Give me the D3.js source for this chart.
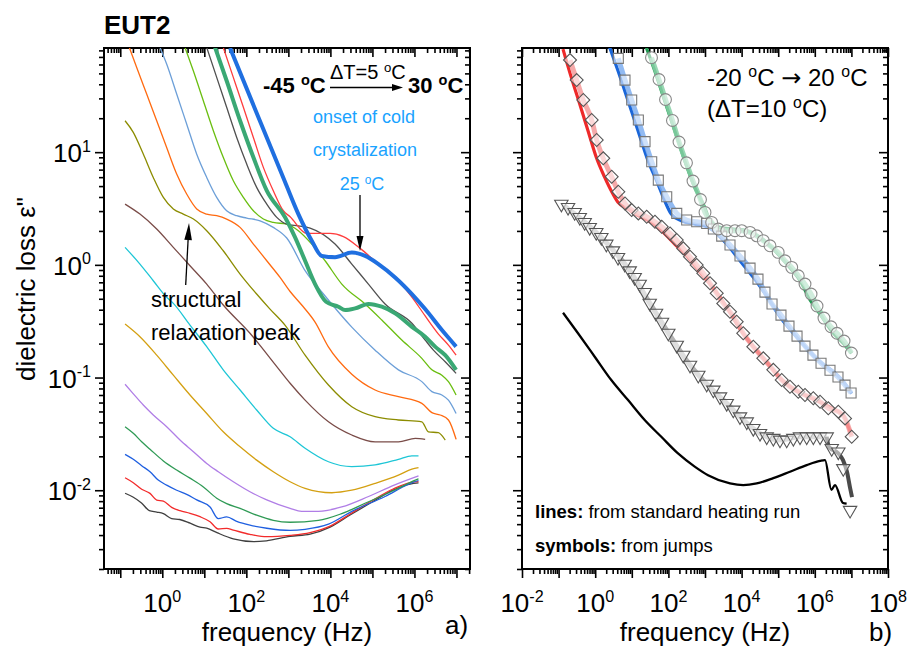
<!DOCTYPE html>
<html><head><meta charset="utf-8">
<script src="https://cdn.jsdelivr.net/npm/d3@7"></script>
<style>
body{margin:0;background:#fff;}
svg{font-family:"Liberation Sans",Arial,Helvetica,sans-serif;}
</style></head><body>
<svg id="chart" width="910" height="651"></svg>
<script>
// ---------- panel a) : standard heating run, -45 °C ... 30 °C (ΔT = 5 °C) ----------
// each curve: [frequency (Hz), dielectric loss]
const temps = [-45,-40,-35,-30,-25,-20,-15,-10,-5,0,5,10,15,20,25,30];
const eps_m45 = [[0.13,0.0094],[0.2,0.0087],[0.32,0.0077],[0.49,0.0066],[0.74,0.0064],[1.06,0.0062],[1.67,0.0056],[2.6,0.0055],[4.6,0.0051],[7.9,0.0047],[11.4,0.0046],[20,0.0042],[49,0.0037],[150,0.0035],[300,0.00356],[1100,0.0039],[3290,0.00408],[9840,0.00471],[29400,0.00603],[98400,0.00786],[3.11e5,0.01004],[7.9e5,0.01135],[1.25e6,0.0116]];
const eps_m40 = [[0.13,0.0129],[0.204,0.01166],[0.323,0.0102],[0.51,0.00938],[0.736,0.00818],[1.06,0.00802],[1.67,0.00705],[2.64,0.00658],[4.57,0.00624],[7.9,0.00582],[13.7,0.00525],[21.5,0.00453],[34,0.00459],[49,0.00443],[122,0.00406],[306,0.00387],[1100,0.00398],[3290,0.00421],[9840,0.00481],[29400,0.00615],[98400,0.0081],[3.11e5,0.01025],[7.9e5,0.0117],[1.25e6,0.0119]];
const eps_m35 = [[0.13,0.0208],[0.204,0.0188],[0.323,0.0165],[0.51,0.0146],[0.8,0.0123],[1.27,0.0111],[2.2,0.01],[3.8,0.0092],[6.6,0.0082],[13.7,0.0071],[21.5,0.0056],[34,0.0058],[59,0.0053],[122,0.0049],[306,0.0046],[1100,0.0044],[2500,0.0045],[9000,0.005],[32300,0.0065],[2e5,0.0088],[7.2e5,0.0113],[1.25e6,0.0122]];
const eps_m30 = [[0.13,0.0366],[0.204,0.032],[0.323,0.0269],[0.51,0.0231],[1.06,0.0182],[2.2,0.0151],[4.56,0.0128],[9.5,0.0107],[19.7,0.0085],[34,0.0076],[71,0.0069],[176,0.006],[438,0.0054],[1100,0.0052],[5200,0.0054],[18600,0.0062],[81000,0.0079],[3.3e5,0.01],[1.05e6,0.0123],[1.25e6,0.0126]];
const eps_m25 = [[0.13,0.0871],[0.2,0.0724],[0.353,0.057],[0.61,0.0465],[1.27,0.0366],[2.64,0.0279],[5.5,0.022],[11.4,0.0173],[21.5,0.0146],[49,0.0119],[122,0.0097],[306,0.0082],[1100,0.0069],[2070,0.0065],[5200,0.0065],[18600,0.0071],[81000,0.0088],[3.3e5,0.0111],[1.25e6,0.0134]];
const eps_m20 = [[0.13,0.298],[0.294,0.23],[0.736,0.158],[1.83,0.105],[4.56,0.07],[11.4,0.048],[28.2,0.033],[71,0.0243],[176,0.0185],[438,0.0146],[1100,0.0119],[2500,0.0104],[10800,0.0095],[32300,0.01],[1.16e5,0.0115],[4.16e5,0.0136],[8.7e5,0.0154],[1.25e6,0.0159]];
const eps_m15 = [[0.13,1.43],[0.294,1.016],[0.61,0.723],[1.27,0.515],[1.83,0.455],[4.56,0.292],[11.4,0.188],[28.2,0.117],[71,0.0775],[176,0.0515],[438,0.0354],[1100,0.0298],[2500,0.0236],[9000,0.0179],[32300,0.0162],[1.16e5,0.0168],[4.16e5,0.0188],[8.7e5,0.0202],[1.25e6,0.0202]];
const eps_m10 = [[0.13,3.46],[0.294,2.82],[0.736,2.08],[1.83,1.43],[4.56,0.982],[11.4,0.675],[28.2,0.44],[122,0.247],[530,0.125],[1100,0.089],[2500,0.0631],[9000,0.0405],[32300,0.0309],[1.16e5,0.0269],[4.16e5,0.0269],[1.05e6,0.0289],[1.8e6,0.0283]];
const eps_m5 = [[0.13,19.0],[0.204,15.0],[0.353,9.62],[0.61,5.97],[1.06,3.97],[1.83,3.13],[3.16,2.82],[5.5,2.55],[11.4,2.01],[28.2,1.334],[71,0.829],[176,0.551],[366,0.405],[830,0.292],[2500,0.158],[9000,0.0858],[32300,0.0551],[1.16e5,0.0449],[4.16e5,0.042],[1.5e6,0.0405],[2.15e6,0.033],[3.7e6,0.0324],[5.4e6,0.0279]];
const eps_0 = [[0.164,85],[0.246,56.5],[0.425,32.8],[0.736,19],[1.27,11.0],[2.2,6.4],[3.8,4.25],[6.6,3.13],[11.4,2.82],[19.7,2.73],[34,2.55],[71,2.15],[147,1.53],[306,1.087],[634,0.774],[1100,0.58],[2080,0.44],[4320,0.31],[8960,0.187],[32300,0.107],[1.16e5,0.0775],[4.16e5,0.0676],[1.5e6,0.059],[2.6e6,0.0488],[4.1e6,0.0465],[6.45e6,0.042],[9.8e6,0.0283]];
const eps_5 = [[0.88,85],[1.27,60.5],[2.2,32.8],[3.8,17.8],[6.6,9.6],[11.4,5.97],[19.7,3.97],[34,3.02],[59,2.73],[102,2.6],[212,2.46],[438,2.15],[916,1.73],[2500,0.887],[7480,0.529],[32300,0.28],[1.16e5,0.175],[4.16e5,0.117],[1.5e6,0.092],[2.6e6,0.075],[4.5e6,0.07],[6.45e6,0.063],[9.8e6,0.048]];
const eps_10 = [[3.47,85],[5.47,52.7],[9.47,28.6],[16.4,15.5],[28.2,9.0],[49,5.57],[85,3.97],[147,3.02],[254,2.55],[438,2.38],[916,2.3],[1730,2.01],[3600,1.53],[7480,1.087],[18700,0.675],[67000,0.449],[1.67e5,0.324],[5e5,0.215],[1.5e6,0.148],[2.6e6,0.117],[4.5e6,0.105],[6.45e6,0.092],[9.8e6,0.07]];
const eps_15 = [[11.4,85],[19.7,46.1],[34,25],[59,13.5],[102,7.84],[176,4.87],[306,3.46],[530,2.64],[916,2.3],[1730,2.22],[3290,2.12],[12900,1.53],[32300,1.016],[80300,0.675],[2e5,0.449],[8.7e5,0.303],[1.8e6,0.215],[2.83e6,0.175],[5.4e6,0.138],[9.8e6,0.109]];
const eps_20 = [[28.2,85],[49,46.1],[85,25],[147,13.5],[254,7.33],[438,4.55],[760,3.02],[1100,2.67],[2740,1.9],[9840,1.9],[20400,1.78],[51000,1.4],[1.39e5,1.016],[4.16e5,0.718],[8.7e5,0.518],[1.8e6,0.352],[3.73e6,0.243],[6.45e6,0.194],[9.8e6,0.158]];
const eps_25 = [[41,84],[185,21.3],[834,5.43],[1730,2.82],[3600,1.64],[6240,1.2],[12900,1.17],[32300,1.285],[67000,1.2],[1.39e5,1.016],[3.47e5,0.774],[8.7e5,0.551],[1.8e6,0.405],[4.5e6,0.264],[7.8e6,0.208],[9.8e6,0.188]];
const eps_30 = [[18,85],[34,43],[71,19],[147,9],[306,4.55],[834,2.64],[1445,1.754],[2500,1.087],[4320,0.675],[7900,0.47],[15500,0.425],[22400,0.397],[38700,0.411],[80300,0.45],[1.67e5,0.425],[3.47e5,0.371],[8.7e5,0.282],[1.8e6,0.23],[3.1e6,0.188],[5.4e6,0.158],[9.8e6,0.117]];
const seriesA = [eps_m45,eps_m40,eps_m35,eps_m30,eps_m25,eps_m20,eps_m15,eps_m10,eps_m5,eps_0,eps_5,eps_10,eps_15,eps_20,eps_25,eps_30];
const colorsA = ["#404040","#f22b2b","#1f5fe0","#2f9a55","#b07ee6","#d4a012","#1ec6d6","#7a4c48","#8c8c00","#ff6a10","#6c9fd8","#6abe10","#505050","#ff3d3d","#1f6fe0","#3aa874"];
const widthsA = [1.3,1.3,1.3,1.3,1.3,1.3,1.3,1.3,1.3,1.3,1.3,1.3,1.3,1.3,4,4];

// ---------- panel b) : -20 °C ... 20 °C (ΔT = 10 °C) ----------
// lines from the standard heating run
const runRed = [[0.132,82],[0.222,46.1],[0.378,26.7],[0.636,15.5],[1.07,9.0],[1.82,5.97],[3.06,4.25],[4.2,3.59],[7.9,3.13],[14.8,2.73],[34,2.38],[64,2.01],[149,1.53],[343,1.166],[792,0.828],[1690,0.622],[3920,0.422],[9040,0.269],[20900,0.188],[48500,0.137],[1.12e5,0.099],[2.59e5,0.079],[6e5,0.0685],[1.39e6,0.0606],[3.2e6,0.0525],[6e6,0.0465],[8.2e6,0.0366],[1.02e7,0.0309]];
const runBlue = [[2.49,85],[4.2,52.7],[7.9,28.6],[14.8,15.5],[27.7,8.39],[52,5.21],[79,3.71],[120,2.82],[225,2.46],[523,2.3],[1210,2.16],[1690,2.01],[3920,1.53],[9040,1.087],[20900,0.774],[48500,0.529],[1.12e5,0.346],[2.59e5,0.247],[6e5,0.182],[1.39e6,0.138],[3.2e6,0.113],[6e6,0.092],[1.02e7,0.072]];
const runGreen = [[24.9,85],[42.3,52.7],[79,28.6],[149,15.5],[279,8.39],[523,4.87],[981,3.24],[1370,2.46],[2570,2.15],[5930,2.08],[13800,2.01],[31800,1.754],[73500,1.38],[1.71e5,1.016],[3.94e5,0.723],[7.5e5,0.485],[1.39e6,0.366],[3.2e6,0.247],[6e6,0.201],[1.02e7,0.164]];
const runGray = [[0.132,3.4],[1.07,1.94],[8.8,0.887],[31,0.458],[100,0.248],[389,0.129],[1110,0.0875],[3920,0.059],[9040,0.0449],[31800,0.032],[1.12e5,0.0279],[3.94e5,0.0298],[1.39e6,0.0298],[2.11e6,0.0298]];
const runGrayTail = [[2.11e6,0.0298],[2.44e6,0.0242],[4.3e6,0.0214],[5.9e6,0.0185],[7.6e6,0.0145],[9.2e6,0.0105],[1.04e7,0.0087]];
const runBlack = [[0.132,0.376],[0.339,0.247],[0.97,0.153],[2.75,0.095],[7.9,0.0631],[22.5,0.042],[64,0.0298],[183,0.0212],[523,0.0162],[1210,0.0136],[4820,0.0115],[11100,0.0111],[25900,0.0115],[73500,0.0128],[2.1e5,0.0146],[6e5,0.0167],[1.39e6,0.0182],[1.9e6,0.0185],[2.84e6,0.0101],[3.56e6,0.0111],[5.9e6,0.0077],[7.4e6,0.0076]];
// symbols from the temperature jumps
const jumpDiamonds = [[0.205,65.6],[0.312,43.6],[0.473,29],[0.802,19.3],[1.1,12.8],[1.66,8.81],[2.82,6.05],[4.28,4.45],[6.52,3.51],[9.93,3.06],[15.1,2.86],[25.5,2.67],[43,2.41],[65.6,2.18],[111,1.9],[169,1.66],[255,1.4],[389,1.18],[593,0.996],[899,0.841],[1370,0.686],[2090,0.559],[3160,0.455],[4820,0.384],[7350,0.313],[11100,0.247],[20900,0.188],[39200,0.148],[73500,0.117],[1.25e5,0.095],[2.1e5,0.0828],[3.54e5,0.0749],[5.4e5,0.07],[9.1e5,0.0654],[1.39e6,0.061],[2.34e6,0.0533],[4.39e6,0.0498],[6.7e6,0.0434],[1.02e7,0.0298]];
const jumpSquares = [[4.28,68],[6.52,43.6],[9.93,29],[15.1,19.3],[23,12.4],[35,8.22],[53,5.65],[90,4.02],[169,2.86],[316,2.5],[593,2.41],[1110,2.33],[1690,2.08],[2860,1.8],[4820,1.5],[9040,1.197],[17000,0.935],[28000,0.747],[43500,0.573],[67800,0.449],[1.19e5,0.358],[1.97e5,0.286],[3.27e5,0.233],[5.4e5,0.19],[8.9e5,0.158],[1.48e6,0.134],[2.6e6,0.116],[4.3e6,0.101],[6.7e6,0.0857],[9.8e6,0.073]];
const jumpCircles = [[34.5,69],[55.3,44.1],[83.3,29.3],[129,19.1],[195,12.3],[312,8.04],[470,5.54],[753,3.8],[1000,2.92],[1520,2.38],[2310,2.08],[3920,2.01],[6600,2.01],[10100,2.01],[17000,1.94],[25900,1.81],[39200,1.64],[59700,1.476],[1e5,1.29],[1.53e5,1.087],[2.34e5,0.95],[3.54e5,0.8],[5.4e5,0.675],[7.9e5,0.551],[1.15e6,0.431],[1.78e6,0.337],[2.77e6,0.282],[4.05e6,0.247],[6.3e6,0.211],[1e7,0.165]];
const jumpTriangles = [[0.119,3.46],[0.181,3.24],[0.275,2.92],[0.378,2.64],[0.516,2.38],[0.708,2.15],[1.07,1.94],[1.47,1.754],[2.01,1.53],[3.06,1.334],[4.2,1.166],[6.4,1.016],[8.77,0.887],[12,0.774],[16.4,0.675],[22.5,0.57],[30.8,0.458],[45.8,0.373],[66.8,0.31],[99.3,0.248],[169,0.194],[255,0.158],[389,0.129],[656,0.105],[1110,0.0875],[1690,0.0775],[2570,0.0676],[3920,0.059],[5930,0.0515],[9040,0.0449],[13800,0.0405],[20900,0.0354],[31800,0.032],[48500,0.0298],[73500,0.0289],[1.12e5,0.0279],[1.71e5,0.0279],[2.59e5,0.0289],[3.94e5,0.0298],[6e5,0.0298],[9.1e5,0.0298],[1.39e6,0.0298],[2.11e6,0.0298],[2.9e6,0.0235],[4.39e6,0.0219],[6e6,0.0156],[9.2e6,0.00664]];

// axis tick labels
const xLabelExpA = [0,2,4,6];
const xLabelExpB = [-2,0,2,4,6,8];
const yLabelExp = [-2,-1,0,1];

// ---------- drawing ----------
const svg = d3.select("#chart");
const FONT = 26;
const frameA = {x0:104, x1:470, y0:48, y1:569};
const frameB = {x0:522, x1:888, y0:48, y1:569};
const xA = d3.scaleLog().domain([0.041, 2.1e7]).range([frameA.x0, frameA.x1]);
const xB = d3.scaleLog().domain([0.01, 1e8]).range([frameB.x0, frameB.x1]);
const y = d3.scaleLog().domain([0.002, 84]).range([frameA.y1, frameA.y0]);

function logTicks(scale){
  const [a,b] = scale.domain();
  const majors = [], minors = [];
  for (let e = Math.floor(Math.log10(a)); e <= Math.ceil(Math.log10(b)); e++){
    for (let k = 1; k < 10; k++){
      const v = +(k + "e" + e);
      if (v < a*0.999 || v > b*1.001) continue;
      (k === 1 ? majors : minors).push(v);
    }
  }
  return {majors, minors};
}

function styleAxis(g){
  g.select(".domain").remove();
  g.selectAll(".tick line").attr("stroke","#000").attr("stroke-width",1.6);
  g.selectAll(".tick text").remove();
}

function drawFrame(f, x, name){
  const tx = logTicks(x), ty = logTicks(y);
  // bottom (outward) and top (inward)
  svg.append("g").attr("transform",`translate(0,${f.y1})`).call(d3.axisBottom(x).tickValues(tx.majors).tickSize(9)).call(styleAxis);
  svg.append("g").attr("transform",`translate(0,${f.y1})`).call(d3.axisBottom(x).tickValues(tx.minors).tickSize(5)).call(styleAxis);
  svg.append("g").attr("transform",`translate(0,${f.y0})`).call(d3.axisTop(x).tickValues(tx.majors).tickSize(-9)).call(styleAxis);
  svg.append("g").attr("transform",`translate(0,${f.y0})`).call(d3.axisTop(x).tickValues(tx.minors).tickSize(-5)).call(styleAxis);
  // left (outward) and right (inward)
  svg.append("g").attr("transform",`translate(${f.x0},0)`).call(d3.axisLeft(y).tickValues(ty.majors).tickSize(9)).call(styleAxis);
  svg.append("g").attr("transform",`translate(${f.x0},0)`).call(d3.axisLeft(y).tickValues(ty.minors).tickSize(5)).call(styleAxis);
  svg.append("g").attr("transform",`translate(${f.x1},0)`).call(d3.axisRight(y).tickValues(ty.majors).tickSize(-9)).call(styleAxis);
  svg.append("g").attr("transform",`translate(${f.x1},0)`).call(d3.axisRight(y).tickValues(ty.minors).tickSize(-5)).call(styleAxis);
  svg.append("rect").attr("x",f.x0).attr("y",f.y0).attr("width",f.x1-f.x0).attr("height",f.y1-f.y0)
    .attr("fill","none").attr("stroke","#000").attr("stroke-width",2);
  svg.append("clipPath").attr("id",name).append("rect")
    .attr("x",f.x0).attr("y",f.y0).attr("width",f.x1-f.x0).attr("height",f.y1-f.y0);
}

function powLabel(g, px, py, exp, anchor, size){
  const t = g.append("text").attr("x",px).attr("y",py).attr("text-anchor",anchor)
    .attr("font-size",size).attr("fill","#000");
  t.append("tspan").text("10");
  t.append("tspan").attr("dy",-size*0.4).attr("font-size",size*0.62).text(exp);
  return t;
}

// text with the degree sign written as a raised small "o"
function degText(g, px, py, parts, size, opts){
  const t = g.append("text").attr("x",px).attr("y",py).attr("font-size",size)
    .attr("fill",opts.fill||"#000").attr("font-weight",opts.weight||"normal")
    .attr("text-anchor",opts.anchor||"start");
  const rise = size*0.36;
  let pending = 0;
  parts.forEach(p => {
    if (p === "°") {
      t.append("tspan").attr("dy",-rise).attr("font-size",size*0.66).text("o");
      pending = rise;
      return;
    }
    const ts = t.append("tspan");
    if (pending) { ts.attr("dy", pending); pending = 0; }
    if (typeof p === "object") {
      ts.text(p.text);
      if (p.weight) ts.attr("font-weight", p.weight);
      if (p.family) ts.attr("font-family", p.family);
    } else ts.text(p);
  });
  return t;
}

drawFrame(frameA, xA, "clipA");
drawFrame(frameB, xB, "clipB");

const labels = svg.append("g");
xLabelExpA.forEach(e => powLabel(labels, xA(+("1e"+e)), 612, e, "middle", FONT));
xLabelExpB.forEach(e => powLabel(labels, xB(+("1e"+e)), 612, e, "middle", FONT));
yLabelExp.forEach(e => powLabel(labels, 91, y(+("1e"+e)) + 10, e, "end", FONT));

labels.append("text").attr("x",(frameA.x0+frameA.x1)/2).attr("y",641).attr("text-anchor","middle")
  .attr("font-size",FONT).text("frequency (Hz)");
labels.append("text").attr("x",(frameB.x0+frameB.x1)/2).attr("y",641).attr("text-anchor","middle")
  .attr("font-size",FONT).text("frequency (Hz)");
labels.append("text").attr("transform","translate(35,289) rotate(-90)").attr("text-anchor","middle")
  .attr("font-size",FONT).text("dielectric loss ε\"");
labels.append("text").attr("x",445).attr("y",634).attr("font-size",FONT).text("a)");
labels.append("text").attr("x",869).attr("y",641).attr("font-size",FONT).text("b)");
labels.append("text").attr("x",104).attr("y",34).attr("font-size",26).attr("font-weight","bold").text("EUT2");

// panel a curves
const lineA = d3.line().x(d => xA(d[0])).y(d => y(d[1])).curve(d3.curveMonotoneX);
const gA = svg.append("g").attr("clip-path","url(#clipA)");
seriesA.forEach((s,i) => {
  gA.append("path").attr("d", lineA(s)).attr("fill","none")
    .attr("stroke", colorsA[i]).attr("stroke-width", widthsA[i]).attr("stroke-linejoin","round");
});

// panel a annotations
const ann = svg.append("g");
function arrow(g, x1, y1, x2, y2, headLen, headW){
  const ang = Math.atan2(y2-y1, x2-x1);
  const bx = x2 - headLen*Math.cos(ang), by = y2 - headLen*Math.sin(ang);
  g.append("line").attr("x1",x1).attr("y1",y1).attr("x2",bx).attr("y2",by)
    .attr("stroke","#000").attr("stroke-width",1.3);
  const px = -Math.sin(ang)*headW, py = Math.cos(ang)*headW;
  g.append("path").attr("d",`M${x2},${y2}L${bx+px},${by+py}L${bx-px},${by-py}Z`).attr("fill","#000");
}
degText(ann, 263, 93, ["-45 ","°","C"], 22, {weight:"bold"});
degText(ann, 330, 79, ["ΔT=5 ","°","C"], 20, {});
arrow(ann, 330, 87.5, 403, 87.5, 11, 3.5);
degText(ann, 408, 93, ["30 ","°","C"], 22, {weight:"bold"});
ann.append("text").attr("x",313).attr("y",123).attr("font-size",18).attr("fill","#1aa3ff").text("onset of cold");
ann.append("text").attr("x",313).attr("y",156).attr("font-size",18).attr("fill","#1aa3ff").text("crystalization");
degText(ann, 362, 190, ["25 ","°","C"], 18, {fill:"#1aa3ff", anchor:"middle"});
arrow(ann, 360, 195, 360, 251, 15, 3.5);
arrow(ann, 185.7, 285, 189, 223, 17, 3.8);
ann.append("text").attr("x",151).attr("y",307).attr("font-size",22).text("structural");
ann.append("text").attr("x",151).attr("y",340).attr("font-size",22).text("relaxation peak");

// panel b curves
const lineB = d3.line().x(d => xB(d[0])).y(d => y(d[1])).curve(d3.curveMonotoneX);
const gB = svg.append("g").attr("clip-path","url(#clipB)");
function runLine(data, color, w, op){
  gB.append("path").attr("d", lineB(data)).attr("fill","none").attr("stroke",color)
    .attr("stroke-width",w).attr("stroke-opacity",op===undefined?1:op).attr("stroke-linejoin","round");
}
runLine(runBlack, "#000", 2.3);
runLine(runGray, "#b4b4b4", 5);
runLine(runGrayTail, "#4a4a4a", 4);
runLine(runRed, "#ee2a2a", 3.2);
runLine(runBlue, "#1a66d9", 3.2);
runLine(runGreen, "#229a52", 3.2);
runLine(jumpDiamonds, "#f49a9a", 5, 0.85);
runLine(jumpSquares, "#7eaef0", 5, 0.85);
runLine(jumpCircles, "#86d0a6", 5, 0.85);

// open symbols with a faint white fill
function symbols(data, type, size, rot, stroke){
  gB.append("g").selectAll("path").data(data).join("path")
    .attr("d", d3.symbol().type(type).size(size))
    .attr("transform", d => `translate(${xB(d[0])},${y(d[1])}) rotate(${rot})`)
    .attr("fill","#fff").attr("fill-opacity",0.55)
    .attr("stroke",stroke).attr("stroke-width",1.1);
}
symbols(jumpTriangles, d3.symbolTriangle, 78, 180, "#555");
symbols(jumpDiamonds, d3.symbolSquare, 84, 45, "#555");
symbols(jumpSquares, d3.symbolSquare, 100, 0, "#777");
symbols(jumpCircles, d3.symbolCircle, 110, 0, "#888");

// panel b annotations
const annB = svg.append("g");
degText(annB, 707, 86, ["-20 ","°",{text:"C "},{text:"→",family:"DejaVu Sans"},{text:" 20 "},"°","C"], 24, {});
degText(annB, 707, 117, ["(ΔT=10 ","°","C)"], 24, {});
degText(annB, 535, 518, [{text:"lines:",weight:"bold"}, " from standard heating run"], 18.5, {});
degText(annB, 535, 552, [{text:"symbols:",weight:"bold"}, " from jumps"], 18.5, {});
</script>
</body></html>
